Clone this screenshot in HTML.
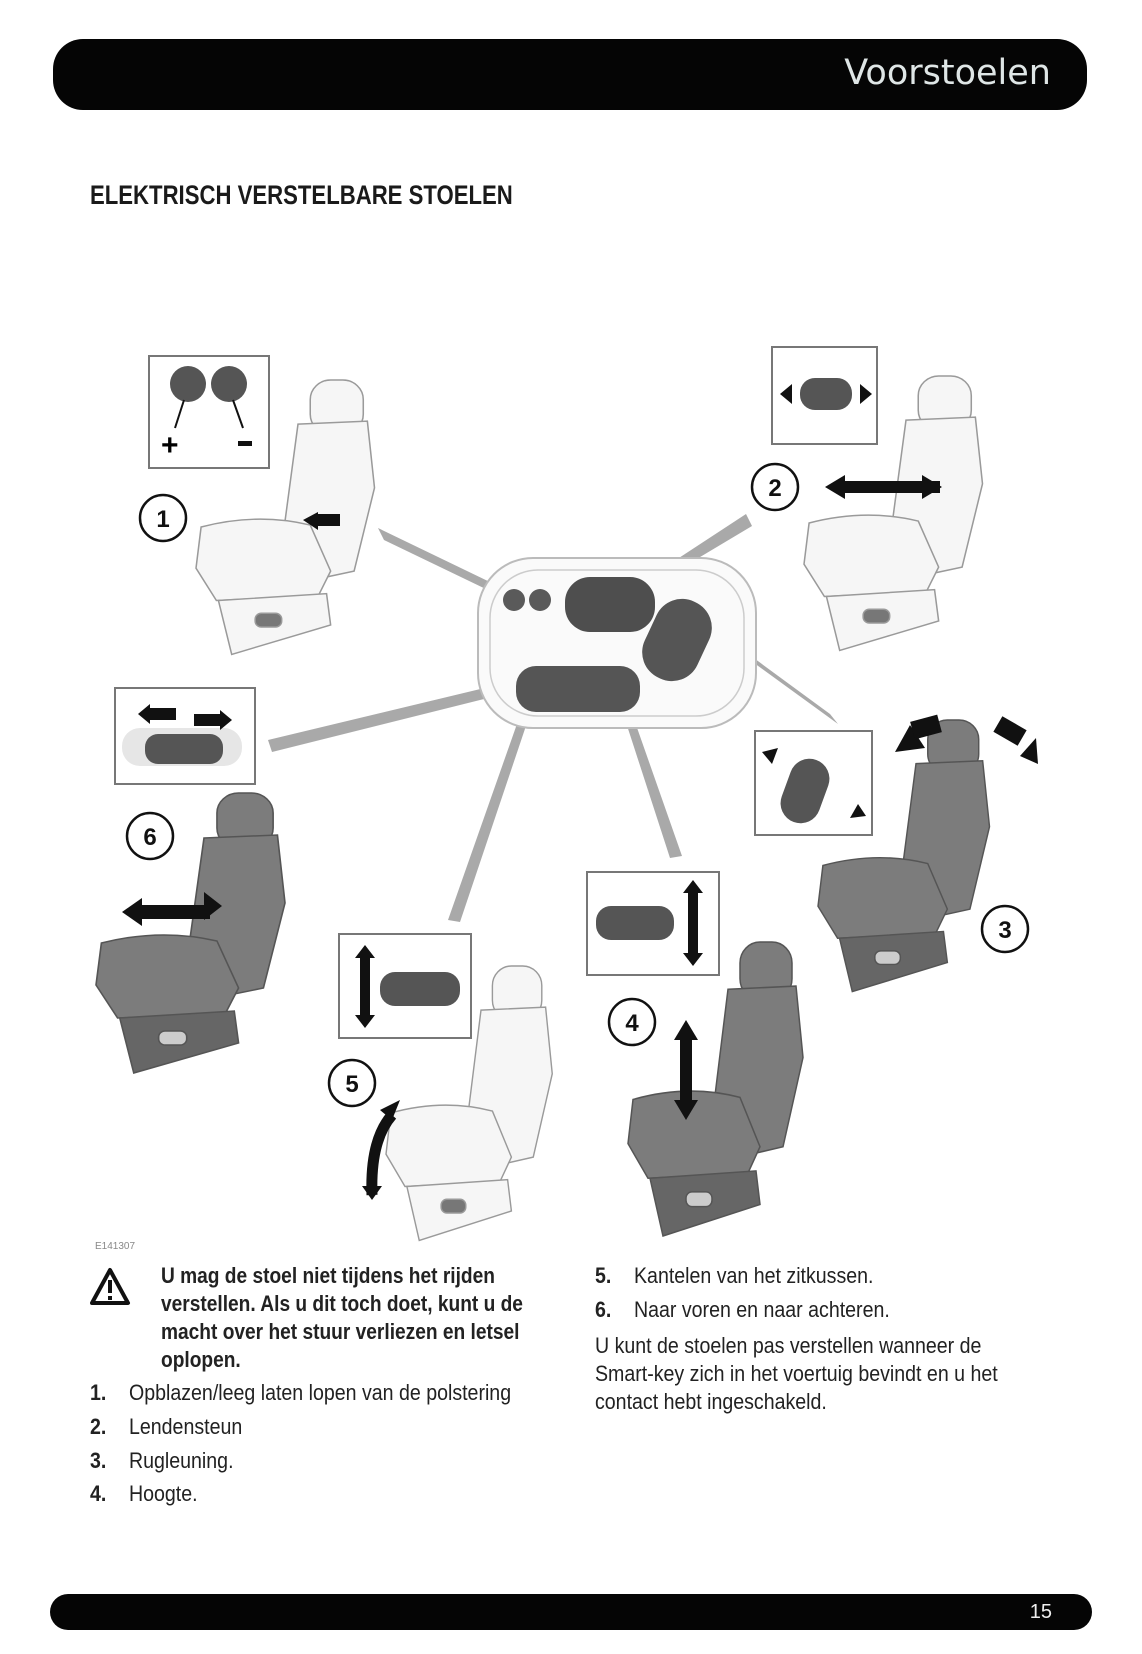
<!DOCTYPE html>
<html><head><meta charset="utf-8">
<style>
html,body{margin:0;padding:0;background:#fff;}
body{width:1142px;height:1654px;position:relative;overflow:hidden;font-family:"Liberation Sans Narrow","Liberation Sans",sans-serif;color:#222;}
.hdr{position:absolute;left:53px;top:39px;width:1034px;height:71px;background:#050505;border-radius:30px;}
.hdr span{position:absolute;right:36px;top:14px;font-family:"DejaVu Sans","Liberation Sans",sans-serif;font-size:35px;color:#dfe6e6;letter-spacing:0px;}
.h1{position:absolute;left:90px;top:180px;font-size:27px;font-weight:bold;transform:scaleX(0.82);transform-origin:left top;white-space:nowrap;color:#1a1a1a;}
.t{position:absolute;font-size:22px;white-space:nowrap;transform:scaleX(0.89);transform-origin:left top;}
.b{font-weight:bold;}
.w{transform:scaleX(0.87);}
.ftr{position:absolute;left:50px;top:1594px;width:1042px;height:36px;background:#050505;border-radius:18px;}
.ftr span{position:absolute;right:40px;top:7px;color:#eee;font-size:20px;}
</style></head><body>
<div class="hdr"><span>Voorstoelen</span></div>
<div class="h1">ELEKTRISCH VERSTELBARE STOELEN</div>

<svg width="1142" height="1654" style="position:absolute;left:0;top:0" xmlns="http://www.w3.org/2000/svg">
<defs>
<g id="seatL" stroke="#9a9a9a" stroke-width="1.5" fill="#f6f6f6">
<rect x="112" y="0" width="52" height="55" rx="20"/>
<path d="M100 45 L168 42 L175 110 L155 195 L110 205 L82 185 Z"/>
<path d="M5 150 Q60 135 112 148 L132 195 L120 220 L20 225 L0 192 Z"/>
<path d="M22 225 L128 218 L132 250 L35 280 Z"/>
<rect x="58" y="238" width="26" height="14" rx="6" fill="#777"/>
</g>
<g id="seatD" stroke="#555" stroke-width="1.5" fill="#7c7c7c">
<rect x="112" y="0" width="52" height="55" rx="20"/>
<path d="M100 45 L168 42 L175 110 L155 195 L110 205 L82 185 Z"/>
<path d="M5 150 Q60 135 112 148 L132 195 L120 220 L20 225 L0 192 Z"/>
<path d="M22 225 L128 218 L132 250 L35 280 Z" fill="#666"/>
<rect x="58" y="238" width="26" height="14" rx="6" fill="#ccc"/>
</g>
</defs>

<g fill="#a9a9a9">
<polygon points="378,528 384,540 492,592 494,584"/>
<polygon points="746,514 752,526 628,600 624,594"/>
<polygon points="268,740 272,752 528,688 526,678"/>
<polygon points="830,714 838,724 706,628 702,620"/>
<polygon points="448,920 460,922 532,708 524,704"/>
<polygon points="670,858 682,856 628,702 620,704"/>
</g>

<use href="#seatL" transform="translate(196,380) scale(1.02,0.98)"/>
<use href="#seatL" transform="translate(804,376) scale(1.02,0.98)"/>
<use href="#seatD" transform="translate(818,720) scale(0.98,0.97)"/>
<use href="#seatD" transform="translate(96,793) scale(1.08,1.0)"/>
<use href="#seatL" transform="translate(386,966) scale(0.95,0.98)"/>
<use href="#seatD" transform="translate(628,942) scale(1.0,1.05)"/>

<rect x="478" y="558" width="278" height="170" rx="55" fill="#fafafa" stroke="#bbb" stroke-width="2"/>
<rect x="490" y="570" width="254" height="146" rx="48" fill="none" stroke="#ccc" stroke-width="1.5"/>
<circle cx="514" cy="600" r="11" fill="#5a5a5a"/><circle cx="540" cy="600" r="11" fill="#5a5a5a"/>
<rect x="565" y="577" width="90" height="55" rx="25" fill="#4e4e4e"/>
<rect x="648" y="598" width="58" height="84" rx="28" transform="rotate(25 677 640)" fill="#555"/>
<rect x="516" y="666" width="124" height="46" rx="20" fill="#555"/>

<g fill="#fff" stroke="#777" stroke-width="2">
<rect x="149" y="356" width="120" height="112"/>
<rect x="772" y="347" width="105" height="97"/>
<rect x="115" y="688" width="140" height="96"/>
<rect x="755" y="731" width="117" height="104"/>
<rect x="339" y="934" width="132" height="104"/>
<rect x="587" y="872" width="132" height="103"/>
</g>
<circle cx="188" cy="384" r="18" fill="#555"/><circle cx="229" cy="384" r="18" fill="#555"/>
<line x1="184" y1="400" x2="175" y2="428" stroke="#111" stroke-width="2"/>
<line x1="233" y1="400" x2="243" y2="428" stroke="#111" stroke-width="2"/>
<text x="161" y="455" font-size="30" font-weight="bold" font-family="Liberation Sans">+</text>
<rect x="238" y="441" width="14" height="5" fill="#111"/>
<rect x="800" y="378" width="52" height="32" rx="15" fill="#555"/>
<polygon points="780,394 792,384 792,404" fill="#111"/><polygon points="872,394 860,384 860,404" fill="#111"/>
<rect x="122" y="728" width="120" height="38" rx="18" fill="#e6e6e6"/>
<rect x="145" y="734" width="78" height="30" rx="13" fill="#555"/>
<polygon points="138,714 150,704 150,724" fill="#111"/><rect x="150" y="708" width="26" height="12" fill="#111"/>
<polygon points="232,720 220,710 220,730" fill="#111"/><rect x="194" y="714" width="26" height="12" fill="#111"/>
<rect x="785" y="758" width="40" height="66" rx="20" transform="rotate(20 805 791)" fill="#555"/>
<polygon points="762,752 778,748 772,764" fill="#111"/><polygon points="866,816 850,818 858,804" fill="#111"/>
<rect x="380" y="972" width="80" height="34" rx="15" fill="#555"/>
<polygon points="365,945 355,958 375,958" fill="#111"/><polygon points="365,1028 355,1015 375,1015" fill="#111"/>
<rect x="360" y="958" width="10" height="58" fill="#111"/>
<rect x="596" y="906" width="78" height="34" rx="15" fill="#555"/>
<polygon points="693,880 683,893 703,893" fill="#111"/><polygon points="693,966 683,953 703,953" fill="#111"/>
<rect x="688" y="893" width="10" height="60" fill="#111"/>

<g fill="#111">
<polygon points="825,487 845,475 845,499"/><rect x="845" y="481" width="95" height="12"/><polygon points="942,487 922,475 922,499"/>
<polygon points="122,912 142,898 142,926"/><rect x="142" y="905" width="68" height="14"/><polygon points="222,906 204,892 204,920"/>
<polygon points="686,1020 674,1040 698,1040"/><rect x="680" y="1040" width="12" height="60"/><polygon points="686,1120 674,1100 698,1100"/>
<polygon points="392,1120 380,1110 400,1100"/><path d="M372 1195 Q370 1140 392 1115" stroke="#111" stroke-width="11" fill="none"/><polygon points="372,1200 362,1186 382,1186"/>
<polygon points="895,752 910,725 925,748"/><rect x="912" y="718" width="28" height="18" transform="rotate(-15 926 727)"/>
<polygon points="1038,764 1020,756 1036,738"/><rect x="996" y="722" width="28" height="18" transform="rotate(30 1010 731)"/>
<polygon points="303,520 318,512 318,530"/><rect x="318" y="514" width="22" height="12"/>
</g>

<g fill="#fff" stroke="#111" stroke-width="2.5">
<circle cx="163" cy="518" r="23"/><circle cx="775" cy="487" r="23"/><circle cx="150" cy="836" r="23"/>
<circle cx="1005" cy="929" r="23"/><circle cx="352" cy="1083" r="23"/><circle cx="632" cy="1022" r="23"/>
</g>
<g font-family="Liberation Sans" font-size="24" font-weight="bold" text-anchor="middle" fill="#111">
<text x="163" y="527">1</text><text x="775" y="496">2</text><text x="150" y="845">6</text>
<text x="1005" y="938">3</text><text x="352" y="1092">5</text><text x="632" y="1031">4</text>
</g>
<text x="95" y="1249" font-family="Liberation Sans" font-size="10" fill="#888">E141307</text>

<path d="M110 1270 L128 1303 L92 1303 Z" fill="#fff" stroke="#111" stroke-width="4" stroke-linejoin="round"/>
<rect x="108" y="1280" width="4" height="13" fill="#111"/><rect x="108" y="1296" width="4" height="4" fill="#111"/>
</svg>

<div class="t b w" style="left:161px;top:1263px">U mag de stoel niet tijdens het rijden</div>
<div class="t b w" style="left:161px;top:1291px">verstellen. Als u dit toch doet, kunt u de</div>
<div class="t b w" style="left:161px;top:1319px">macht over het stuur verliezen en letsel</div>
<div class="t b w" style="left:161px;top:1347px">oplopen.</div>

<div class="t b" style="left:90px;top:1380px">1.</div><div class="t" style="left:129px;top:1380px">Opblazen/leeg laten lopen van de polstering</div>
<div class="t b" style="left:90px;top:1414px">2.</div><div class="t" style="left:129px;top:1414px">Lendensteun</div>
<div class="t b" style="left:90px;top:1448px">3.</div><div class="t" style="left:129px;top:1448px">Rugleuning.</div>
<div class="t b" style="left:90px;top:1481px">4.</div><div class="t" style="left:129px;top:1481px">Hoogte.</div>

<div class="t b" style="left:595px;top:1263px">5.</div><div class="t" style="left:634px;top:1263px">Kantelen van het zitkussen.</div>
<div class="t b" style="left:595px;top:1297px">6.</div><div class="t" style="left:634px;top:1297px">Naar voren en naar achteren.</div>
<div class="t" style="left:595px;top:1333px">U kunt de stoelen pas verstellen wanneer de</div>
<div class="t" style="left:595px;top:1361px">Smart-key zich in het voertuig bevindt en u het</div>
<div class="t" style="left:595px;top:1389px">contact hebt ingeschakeld.</div>

<div class="ftr"><span>15</span></div>
</body></html>
